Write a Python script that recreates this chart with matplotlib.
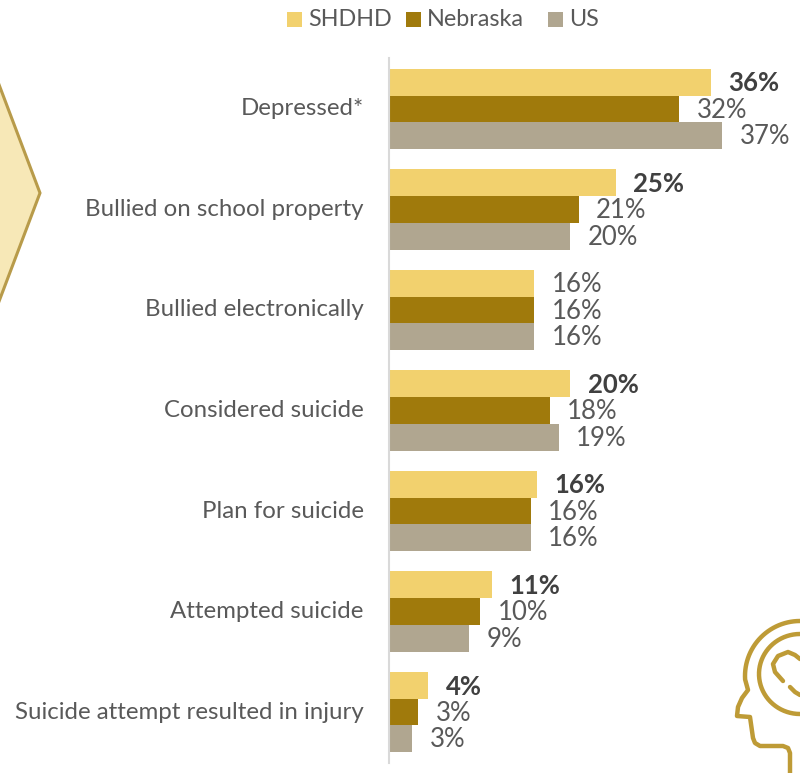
import matplotlib
matplotlib.use('Agg')
import matplotlib.pyplot as plt
from matplotlib.patches import Polygon, Rectangle
import numpy as np

plt.rcParams['font.family'] = ['Lato', 'DejaVu Sans']

categories = ['Depressed*', 'Bullied on school property', 'Bullied electronically',
              'Considered suicide', 'Plan for suicide', 'Attempted suicide',
              'Suicide attempt resulted in injury']
series_names = ['SHDHD', 'Nebraska', 'US']
shdhd = [35.6, 25.1, 16.1, 20.1, 16.4, 11.4, 4.4]
nebraska = [32.1, 21.0, 16.1, 17.8, 15.7, 10.1, 3.3]
us = [36.9, 20.1, 16.1, 18.8, 15.7, 8.9, 2.6]
# the SHDHD figure is bold unless all three geographies agree
shdhd_bold = [True, True, False, True, True, True, True]
colors = ['#F2D16E', '#A07A0C', '#B0A690']
text_col = '#595959'
dark_text = '#404040'

fig = plt.figure(figsize=(8, 7.73), dpi=100)

# chart area runs from the axis line to the right edge
ax = fig.add_axes([388.5 / 800, 1 - 763 / 773, 411.5 / 800, 705 / 773])
ax.set_xlim(0, 45.47)
ax.set_ylim(6.507, -0.507)

bar_h = 0.266
y = np.arange(len(categories))
for k, vals in enumerate([shdhd, nebraska, us]):
    pos = y + (k - 1) * bar_h
    ax.barh(pos, vals, height=bar_h, color=colors[k], linewidth=0)
    for i in range(len(vals)):
        bold = k == 0 and shdhd_bold[i]
        ax.text(vals[i] + 1.95, pos[i] + 0.012, f'{round(vals[i])}%', va='center', ha='left',
                fontsize=18.5, color=dark_text if bold else text_col,
                fontweight='bold' if bold else 'normal', clip_on=False)

for i, c in enumerate(categories):
    ax.text(-2.75, i, c, va='center', ha='right', fontsize=17.3, color=text_col)

for s in ['top', 'right', 'bottom']:
    ax.spines[s].set_visible(False)
ax.spines['left'].set_color('#D9D9D9')
ax.spines['left'].set_linewidth(1.5)
ax.set_xticks([])
ax.set_yticks([])

# overlay in pixel units for the legend and the decorations
deco = fig.add_axes([0, 0, 1, 1], zorder=3)
deco.set_xlim(0, 800)
deco.set_ylim(773, 0)
deco.axis('off')

legend_x = [287, 406, 548]
for lx, name, col in zip(legend_x, series_names, colors):
    deco.add_patch(Rectangle((lx, 12), 15, 15, color=col, lw=0))
    deco.text(lx + 21, 19, name, va='center', ha='left', fontsize=16.8, color=text_col)

# chevron cut off by the left edge
deco.add_patch(Polygon([(-5, 74), (40, 193), (-5, 312)], closed=True, facecolor='#F7E8B7',
                       edgecolor='#B89B4A', linewidth=2.2))

# head outline
gold = '#BE9B36'
t = np.linspace(np.pi / 2, 1.02 * np.pi, 30)
head_x = list(800 + 55 * np.cos(t)) + [748, 742, 738, 737, 750, 753, 755, 760, 783, 788, 790, 790]
head_y = list(676 - 55 * np.sin(t)) + [690, 698, 707, 716, 717, 738, 743, 746, 746, 748, 753, 775]
deco.plot(head_x, head_y, color=gold, lw=3.2, solid_joinstyle='round')

# inner ring
t = np.linspace(np.pi / 2, 1.5 * np.pi, 40)
deco.plot(800 + 41 * np.cos(t), 674 - 40 * np.sin(t), color=gold, lw=3.2)

# heart
deco.plot([800, 795, 788, 778, 773, 775, 783], [659, 655, 652, 656, 664, 672, 681],
          color=gold, lw=3.2, solid_capstyle='round')
deco.plot([790, 795, 800], [687, 692, 695], color=gold, lw=3.2, solid_capstyle='round')

fig.savefig('out.png', dpi=100)
